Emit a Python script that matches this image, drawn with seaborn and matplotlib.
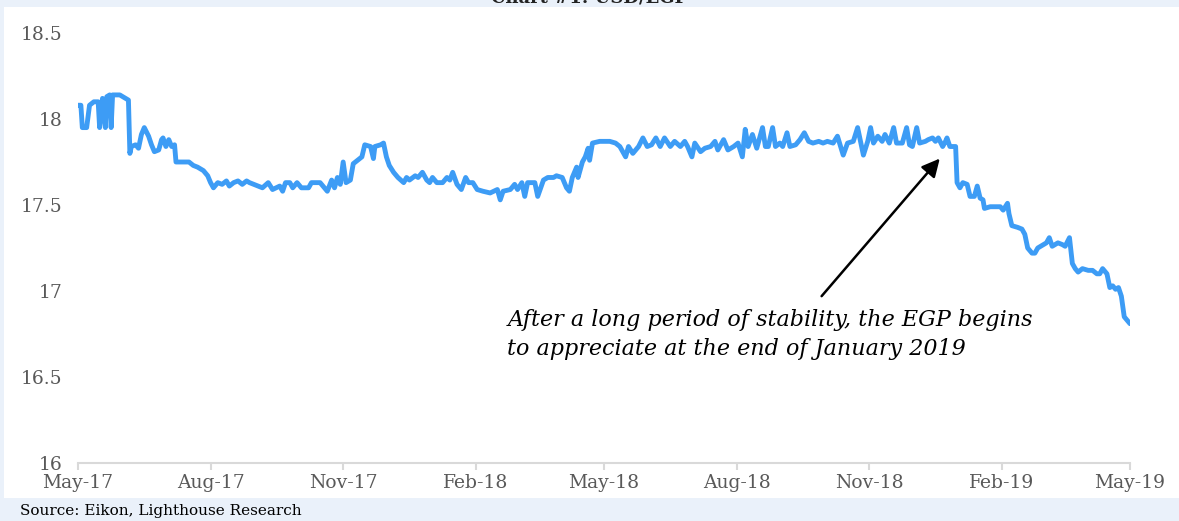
import matplotlib
matplotlib.use("Agg")
import matplotlib.pyplot as plt
import matplotlib.dates as mdates
import matplotlib.patches as mpatches
import seaborn as sns
import pandas as pd

# ---------------- data ----------------
start_date = "2017-05-01"
# days after start_date
day_offsets = [
    0, 2, 3, 6, 8, 11, 14, 15, 17, 19, 20, 22, 23, 24, 29, 33, 35, 36, 37, 40,
    42, 44, 46, 49, 51, 53, 56, 58, 59, 61, 63, 65, 67, 68, 74, 77, 80, 83, 85, 87,
    90, 92, 94, 97, 100, 103, 105, 108, 111, 114, 117, 119, 128, 132, 135, 140, 142, 144, 147, 149,
    152, 155, 160, 162, 168, 171, 173, 176, 178, 180, 182, 184, 186, 189, 191, 194, 197, 199, 203, 205,
    206, 210, 212, 214, 216, 219, 222, 226, 228, 230, 234, 236, 239, 242, 244, 246, 249, 253, 256, 258,
    260, 263, 266, 269, 271, 274, 277, 281, 286, 291, 293, 295, 300, 303, 305, 308, 310, 312, 317, 319,
    323, 326, 330, 332, 336, 339, 341, 343, 346, 347, 350, 352, 354, 355, 357, 362, 369, 373, 376, 380,
    382, 385, 389, 392, 395, 398, 401, 404, 407, 411, 414, 418, 421, 423, 426, 428, 432, 435, 439, 442,
    444, 448, 451, 455, 458, 461, 463, 465, 468, 471, 475, 477, 479, 482, 484, 487, 489, 492, 494, 498,
    501, 504, 507, 510, 514, 517, 520, 524, 527, 531, 534, 538, 541, 543, 545, 548, 550, 552, 555, 558,
    560, 563, 566, 568, 572, 575, 577, 579, 582, 584, 588, 590, 593, 595, 597, 600, 602, 603, 605, 609,
    610, 612, 614, 617, 619, 622, 624, 626, 628, 629, 633, 636, 640, 642, 645, 646, 648, 652, 655, 657,
    659, 662, 664, 666, 670, 672, 674, 676, 678, 680, 683, 685, 688, 690, 692, 694, 697, 701, 704, 707,
    709, 711, 714, 716, 718, 720, 722, 724, 726, 728, 730,
]
usd_egp = [
    18.08, 18.08, 17.95, 17.95, 18.08, 18.10, 18.10, 17.95, 18.12, 17.95, 18.13, 18.14, 17.95, 18.14, 18.14, 18.12, 18.11, 17.80, 17.84, 17.85,
    17.83, 17.91, 17.95, 17.90, 17.85, 17.81, 17.82, 17.88, 17.89, 17.84, 17.88, 17.84, 17.85, 17.75, 17.75, 17.75, 17.73, 17.72, 17.71, 17.70,
    17.67, 17.63, 17.60, 17.63, 17.62, 17.64, 17.61, 17.63, 17.64, 17.62, 17.64, 17.63, 17.60, 17.63, 17.59, 17.61, 17.58, 17.63, 17.63, 17.60,
    17.63, 17.60, 17.60, 17.63, 17.63, 17.60, 17.58, 17.645, 17.60, 17.66, 17.62, 17.75, 17.63, 17.645, 17.74, 17.76, 17.78, 17.85, 17.84, 17.77,
    17.84, 17.85, 17.86, 17.78, 17.73, 17.69, 17.66, 17.63, 17.66, 17.645, 17.67, 17.66, 17.69, 17.645, 17.63, 17.66, 17.63, 17.63, 17.66, 17.645,
    17.69, 17.62, 17.59, 17.66, 17.63, 17.63, 17.59, 17.58, 17.57, 17.59, 17.53, 17.58, 17.59, 17.62, 17.59, 17.63, 17.55, 17.63, 17.63, 17.55,
    17.645, 17.66, 17.66, 17.67, 17.66, 17.60, 17.58, 17.66, 17.72, 17.66, 17.75, 17.78, 17.83, 17.76, 17.86, 17.87, 17.87, 17.86, 17.84, 17.78,
    17.84, 17.80, 17.84, 17.89, 17.84, 17.85, 17.89, 17.84, 17.89, 17.84, 17.87, 17.84, 17.87, 17.84, 17.78, 17.86, 17.81, 17.83, 17.84, 17.87,
    17.82, 17.88, 17.82, 17.84, 17.86, 17.78, 17.94, 17.84, 17.91, 17.83, 17.95, 17.84, 17.84, 17.95, 17.84, 17.86, 17.84, 17.92, 17.84, 17.85,
    17.88, 17.92, 17.87, 17.86, 17.87, 17.86, 17.87, 17.86, 17.90, 17.79, 17.86, 17.87, 17.95, 17.87, 17.79, 17.87, 17.95, 17.86, 17.90, 17.87,
    17.91, 17.86, 17.95, 17.86, 17.86, 17.95, 17.85, 17.84, 17.95, 17.86, 17.87, 17.88, 17.89, 17.87, 17.89, 17.84, 17.87, 17.89, 17.84, 17.84,
    17.63, 17.60, 17.63, 17.62, 17.55, 17.55, 17.61, 17.54, 17.53, 17.48, 17.49, 17.49, 17.49, 17.47, 17.51, 17.45, 17.38, 17.37, 17.36, 17.33,
    17.25, 17.22, 17.22, 17.25, 17.27, 17.28, 17.31, 17.26, 17.27, 17.28, 17.27, 17.26, 17.31, 17.16, 17.13, 17.11, 17.13, 17.12, 17.12, 17.10,
    17.10, 17.13, 17.10, 17.02, 17.03, 17.01, 17.02, 16.97, 16.85, 16.83, 16.81,
]
tick_dates = ["2017-05-01", "2017-08-01", "2017-11-01", "2018-02-01", "2018-05-01",
              "2018-08-01", "2018-11-01", "2019-02-01", "2019-05-01"]
y_ticks = [16, 16.5, 17, 17.5, 18, 18.5]
y_tick_labels = ["16", "16.5", "17", "17.5", "18", "18.5"]

title = "Chart #1: USD/EGP"
source = "Source: Eikon, Lighthouse Research"
note = "After a long period of stability, the EGP begins\nto appreciate at the end of January 2019"
arrow_tip = ("2018-12-20", 17.77)
arrow_tail = ("2018-09-29", 16.97)
note_pos = ("2018-02-23", 16.895)

# ---------------- drawing ----------------
sns.set_theme(style="white")
plt.rcParams["font.family"] = ["DejaVu Serif"]

W, H = 1179, 521
fig = plt.figure(figsize=(W / 100, H / 100), dpi=100)
fig.patch.set_facecolor("#EAF1FA")
# white chart panel
fig.add_artist(mpatches.Rectangle((4 / W, 1 - 498 / H), (W - 4) / W, (498 - 7) / H,
                                  transform=fig.transFigure, facecolor="white",
                                  edgecolor="none", zorder=0))

ax = fig.add_axes([78 / W, 1 - 463 / H, (1130 - 78) / W, (463 - 33) / H])
ax.set_facecolor("none")

dates = pd.Timestamp(start_date) + pd.to_timedelta(day_offsets, unit="D")
df = pd.DataFrame({"date": dates, "rate": usd_egp})
sns.lineplot(data=df, x="date", y="rate", ax=ax, color="#3D9CF5", linewidth=3.5,
             solid_joinstyle="round", solid_capstyle="round")

ax.set_xlim(pd.Timestamp(tick_dates[0]), pd.Timestamp(tick_dates[-1]))
ax.set_ylim(16, 18.5)
ax.set_yticks(y_ticks)
ax.set_yticklabels(y_tick_labels)
ax.set_xticks(pd.to_datetime(tick_dates))
ax.xaxis.set_major_formatter(mdates.DateFormatter("%b-%y"))
ax.set_xlabel("")
ax.set_ylabel("")

for s in ["top", "right", "left"]:
    ax.spines[s].set_visible(False)
ax.spines["bottom"].set_color("#D9D9D9")
ax.spines["bottom"].set_linewidth(1.5)
ax.tick_params(axis="x", direction="out", length=5, width=1.5, color="#D9D9D9",
               labelsize=13.5, labelcolor="#595959", pad=3, bottom=True)
ax.tick_params(axis="y", length=0, labelsize=13.5, labelcolor="#595959", pad=11)
ax.grid(False)

ax.text(pd.Timestamp(note_pos[0]), note_pos[1], note, fontsize=16, fontstyle="italic",
        color="black", ha="left", va="top", linespacing=1.4)
ax.annotate("", xy=(pd.Timestamp(arrow_tip[0]), arrow_tip[1]),
            xytext=(pd.Timestamp(arrow_tail[0]), arrow_tail[1]),
            arrowprops=dict(arrowstyle="-|>,head_length=0.9,head_width=0.45",
                            color="black", lw=1.8, shrinkA=0, shrinkB=0))

fig.text(0.5, 1 - 3 / H, title, ha="center", va="baseline", fontsize=13,
         fontweight="bold", color="#222222")
fig.text(20 / W, 1 - 511 / H, source, ha="left", va="center", fontsize=11,
         color="black")

fig.savefig("out.png", dpi=100, facecolor=fig.get_facecolor())
